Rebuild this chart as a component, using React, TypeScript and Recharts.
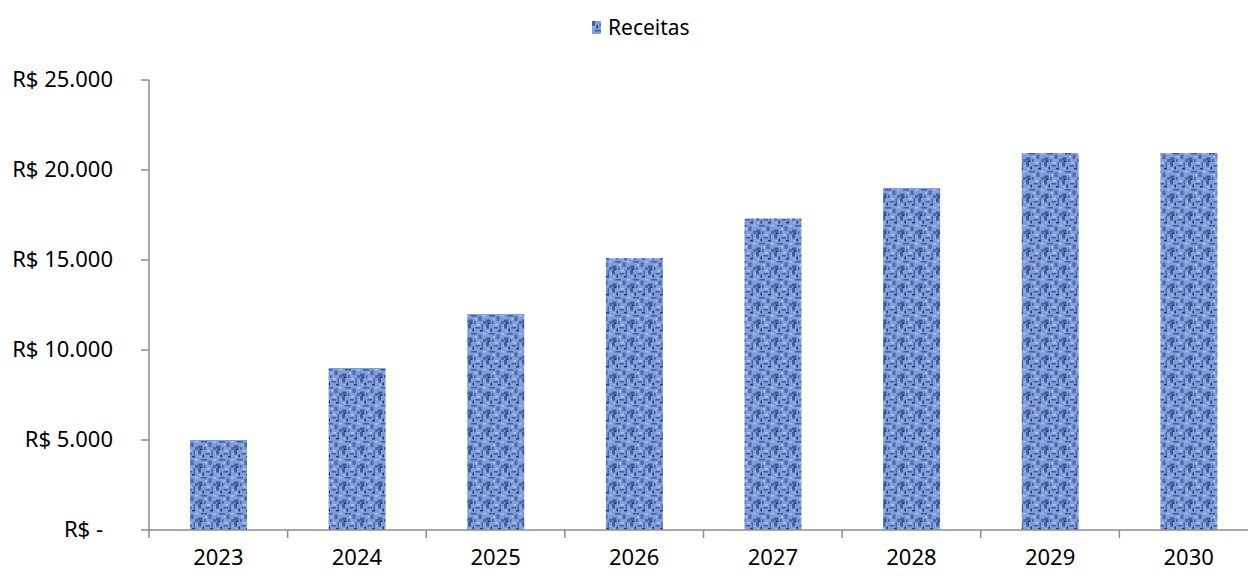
import { BarChart, Bar, XAxis, YAxis, Legend } from 'recharts'

const years = ['2023', '2024', '2025', '2026', '2027', '2028', '2029', '2030']
const receitas = [5000, 9000, 12000, 15100, 17300, 19000, 20950, 20950]
const yTicks = [0, 5000, 10000, 15000, 20000, 25000]

const data = years.map((y, i) => ({ year: y, receitas: receitas[i] }))

const FONT = '"Noto Sans", "Open Sans", sans-serif'
const AXIS = '#8c8c8c'

const fmt = (v: number) => {
  if (v === 0) return 'R$ -'
  return 'R$ ' + String(v).replace(/\B(?=(\d{3})+(?!\d))/g, '.')
}

function Texture({ id }: { id: string }) {
  return (
    <pattern id={id} patternUnits="userSpaceOnUse" width="12" height="12" patternTransform="scale(1.5)">
      <rect width="12" height="12" fill="#7f9edb" />
      <rect x="0" y="0" width="2" height="3" fill="#3f5f9e" />
      <rect x="5" y="2" width="3" height="1" fill="#3f5f9e" />
      <rect x="9" y="0" width="1" height="4" fill="#4a6aa8" />
      <rect x="2" y="6" width="4" height="1" fill="#3f5f9e" />
      <rect x="7" y="7" width="2" height="3" fill="#4a6aa8" />
      <rect x="0" y="9" width="3" height="2" fill="#3f5f9e" />
      <rect x="10" y="10" width="2" height="2" fill="#4a6aa8" />
      <rect x="4" y="10" width="1" height="2" fill="#3f5f9e" />
      <rect x="3" y="3" width="1" height="2" fill="#1f3a75" />
      <rect x="8" y="4" width="2" height="1" fill="#1f3a75" />
      <rect x="1" y="11" width="2" height="1" fill="#1f3a75" />
      <rect x="6" y="0" width="2" height="1" fill="#b3c8f0" />
      <rect x="1" y="4" width="1" height="1" fill="#b3c8f0" />
      <rect x="10" y="6" width="2" height="1" fill="#a8c0ee" />
      <rect x="5" y="8" width="1" height="1" fill="#c4d6f6" />
      <rect x="11" y="2" width="1" height="1" fill="#a8c0ee" />
    </pattern>
  )
}

function YTick(props: any) {
  const { x, y, payload } = props
  const shift = payload.value === 0 ? -10 : 0
  return (
    <text x={x + shift} y={y} dy={7} textAnchor="end" fill="#000" fontSize={22} fontFamily={FONT}>
      {fmt(payload.value)}
    </text>
  )
}

function XTick(props: any) {
  const { x, y, payload, index } = props
  const half = payload && payload.offset ? payload.offset : 69.3
  return (
    <g>
      <line x1={x - half} y1={y} x2={x - half} y2={y + 8} stroke={AXIS} strokeWidth={1.5} />
      {index === years.length - 1 && (
        <line x1={x + half} y1={y} x2={x + half} y2={y + 8} stroke={AXIS} strokeWidth={1.5} />
      )}
      <text x={x} y={y} dy={35} textAnchor="middle" fill="#000" fontSize={22} fontFamily={FONT}>
        {payload.value}
      </text>
    </g>
  )
}

function LegendContent(props: any) {
  const { payload } = props
  return (
    <div style={{ height: 30, position: 'relative' }}>
      {(payload || []).map((p: any) => (
        <div
          key={p.value}
          style={{ position: 'absolute', left: 592, top: 8, display: 'flex', alignItems: 'center', fontFamily: FONT, fontSize: 21, color: '#000' }}
        >
          <svg width="9" height="13" style={{ marginRight: 7 }}>
            <rect width="9" height="13" fill="url(#tex)" />
          </svg>
          <span>{p.value}</span>
        </div>
      ))}
    </div>
  )
}

export default function App() {
  return (
    <div style={{ position: 'absolute', left: 0, top: 0, width: 1248, height: 576, overflow: 'hidden', background: '#fff' }}>
      <BarChart width={1260} height={576} data={data} margin={{ top: 50, right: 2, bottom: 16, left: 0 }}>
        <defs>
          <Texture id="tex" />
        </defs>
        <Legend verticalAlign="top" content={<LegendContent />} wrapperStyle={{ top: 5 }} />
        <XAxis
          dataKey="year"
          tickLine={false}
          tickSize={0}
          tickMargin={0}
          height={30}
          axisLine={{ stroke: AXIS, strokeWidth: 1.5 }}
          tick={<XTick />}
          interval={0}
        />
        <YAxis
          width={149}
          domain={[0, 25000]}
          ticks={yTicks}
          tickSize={8}
          tickMargin={28}
          tickLine={{ stroke: AXIS, strokeWidth: 1.5 }}
          axisLine={{ stroke: AXIS, strokeWidth: 1.5 }}
          tick={<YTick />}
        />
        <Bar dataKey="receitas" name="Receitas" fill="url(#tex)" barSize={57} isAnimationActive={false} />
      </BarChart>
    </div>
  )
}
